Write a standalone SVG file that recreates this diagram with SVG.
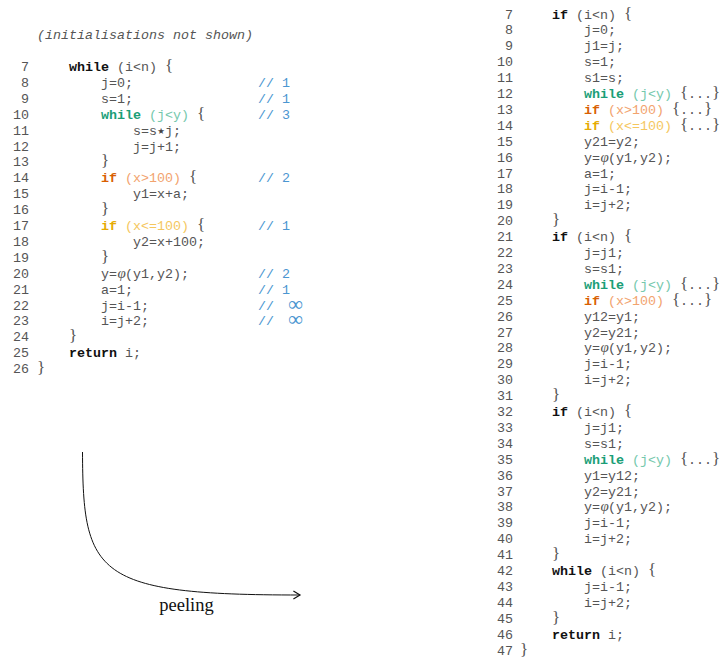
<svg xmlns="http://www.w3.org/2000/svg" width="722" height="658" viewBox="0 0 722 658">
<defs>
<style>
.c{font-family:"Liberation Mono","Courier New",monospace;font-size:13.33px;fill:#555}
.n{font-family:"Liberation Mono","Courier New",monospace;font-size:13.33px;fill:#555;text-anchor:end}
.it{font-style:italic}
.k{font-weight:bold;fill:#111}
.gk{font-weight:bold;fill:#1b9e77}
.gc{fill:#74c8ac}
.ok{font-weight:bold;fill:#d95f02}
.oc{fill:#f2a36e}
.yk{font-weight:bold;fill:#e6ab02}
.yc{fill:#f5c75e}
.cm{font-family:"Liberation Mono","Courier New",monospace;font-size:13.33px;fill:#4b96d1}
.inf{font-family:"Liberation Serif","DejaVu Serif",serif;font-size:21px;fill:#4b96d1}
.b{font-family:"Liberation Serif","Times New Roman",serif;font-size:17px;fill:#555}
.phi{font-family:"Liberation Serif","Times New Roman",serif;font-style:italic;font-size:15px;fill:#555}
.star{font-family:"DejaVu Sans",sans-serif;font-size:8.5px;fill:#444;text-anchor:middle}
.lbl{font-family:"Liberation Serif","Times New Roman",serif;font-size:18.5px;fill:#111;text-anchor:middle}
</style>
<marker id="arr" markerUnits="userSpaceOnUse" markerWidth="12" markerHeight="12" refX="0" refY="0" viewBox="-7 -5 8 10" orient="auto">
<path d="M-5.5,-3.4 L0,0 L-5.5,3.4" fill="none" stroke="#111" stroke-width="1"/>
</marker>
</defs>
<rect width="722" height="658" fill="#fff"/>

<g id="left-code">
<text class="c it" x="37" y="38.5">(initialisations not shown)</text>
<g id="l7"><text class="n" x="29" y="71">7</text><text class="c" x="69" y="71"><tspan class="k">while</tspan> (i&lt;n)</text><text class="b" x="165" y="71">{</text></g>
<g id="l8"><text class="n" x="29" y="86.9">8</text><text class="c" x="101" y="86.9">j=0;</text><text class="cm" x="258" y="86.9">// 1</text></g>
<g id="l9"><text class="n" x="29" y="102.8">9</text><text class="c" x="101" y="102.8">s=1;</text><text class="cm" x="258" y="102.8">// 1</text></g>
<g id="l10"><text class="n" x="29" y="118.7">10</text><text class="c" x="101" y="118.7"><tspan class="gk">while</tspan> <tspan class="gc">(j&lt;y)</tspan></text><text class="b" x="197" y="118.7">{</text><text class="cm" x="258" y="118.7">// 3</text></g>
<g id="l11"><text class="n" x="29" y="134.6">11</text><text class="c" x="133" y="134.6">s=s</text><text class="star" x="161" y="133.6">★</text><text class="c" x="165" y="134.6">j;</text></g>
<g id="l12"><text class="n" x="29" y="150.5">12</text><text class="c" x="133" y="150.5">j=j+1;</text></g>
<g id="l13"><text class="n" x="29" y="166.4">13</text><text class="b" x="101" y="166.4">}</text></g>
<g id="l14"><text class="n" x="29" y="182.3">14</text><text class="c" x="101" y="182.3"><tspan class="ok">if</tspan> <tspan class="oc">(x&gt;100)</tspan></text><text class="b" x="189" y="182.3">{</text><text class="cm" x="258" y="182.3">// 2</text></g>
<g id="l15"><text class="n" x="29" y="198.2">15</text><text class="c" x="133" y="198.2">y1=x+a;</text></g>
<g id="l16"><text class="n" x="29" y="214.1">16</text><text class="b" x="101" y="214.1">}</text></g>
<g id="l17"><text class="n" x="29" y="230">17</text><text class="c" x="101" y="230"><tspan class="yk">if</tspan> <tspan class="yc">(x&lt;=100)</tspan></text><text class="b" x="197" y="230">{</text><text class="cm" x="258" y="230">// 1</text></g>
<g id="l18"><text class="n" x="29" y="245.9">18</text><text class="c" x="133" y="245.9">y2=x+100;</text></g>
<g id="l19"><text class="n" x="29" y="261.8">19</text><text class="b" x="101" y="261.8">}</text></g>
<g id="l20"><text class="n" x="29" y="277.7">20</text><text class="c" x="101" y="277.7">y=</text><text class="phi" x="117.5" y="277.7">φ</text><text class="c" x="125" y="277.7">(y1,y2);</text><text class="cm" x="258" y="277.7">// 2</text></g>
<g id="l21"><text class="n" x="29" y="293.6">21</text><text class="c" x="101" y="293.6">a=1;</text><text class="cm" x="258" y="293.6">// 1</text></g>
<g id="l22"><text class="n" x="29" y="309.5">22</text><text class="c" x="101" y="309.5">j=i-1;</text><text class="cm" x="258" y="309.5">//</text><text class="inf" x="288" y="310.5">∞</text></g>
<g id="l23"><text class="n" x="29" y="325.4">23</text><text class="c" x="101" y="325.4">i=j+2;</text><text class="cm" x="258" y="325.4">//</text><text class="inf" x="288" y="326.4">∞</text></g>
<g id="l24"><text class="n" x="29" y="341.3">24</text><text class="b" x="69" y="341.3">}</text></g>
<g id="l25"><text class="n" x="29" y="357.2">25</text><text class="c" x="69" y="357.2"><tspan class="k">return</tspan> i;</text></g>
<g id="l26"><text class="n" x="29" y="373.1">26</text><text class="b" x="37" y="373.1">}</text></g>
</g>

<g id="right-code">
<g id="r7"><text class="n" x="513" y="18.5">7</text><text class="c" x="552" y="18.5"><tspan class="k">if</tspan> (i&lt;n)</text><text class="b" x="624" y="18.5">{</text></g>
<g id="r8"><text class="n" x="513" y="34.4">8</text><text class="c" x="584" y="34.4">j=0;</text></g>
<g id="r9"><text class="n" x="513" y="50.3">9</text><text class="c" x="584" y="50.3">j1=j;</text></g>
<g id="r10"><text class="n" x="513" y="66.2">10</text><text class="c" x="584" y="66.2">s=1;</text></g>
<g id="r11"><text class="n" x="513" y="82.1">11</text><text class="c" x="584" y="82.1">s1=s;</text></g>
<g id="r12"><text class="n" x="513" y="98">12</text><text class="c" x="584" y="98"><tspan class="gk">while</tspan> <tspan class="gc">(j&lt;y)</tspan></text><text class="b" x="680" y="98">{</text><text class="c" x="688" y="98">...</text><text class="b" x="712" y="98">}</text></g>
<g id="r13"><text class="n" x="513" y="113.9">13</text><text class="c" x="584" y="113.9"><tspan class="ok">if</tspan> <tspan class="oc">(x&gt;100)</tspan></text><text class="b" x="672" y="113.9">{</text><text class="c" x="680" y="113.9">...</text><text class="b" x="704" y="113.9">}</text></g>
<g id="r14"><text class="n" x="513" y="129.8">14</text><text class="c" x="584" y="129.8"><tspan class="yk">if</tspan> <tspan class="yc">(x&lt;=100)</tspan></text><text class="b" x="680" y="129.8">{</text><text class="c" x="688" y="129.8">...</text><text class="b" x="712" y="129.8">}</text></g>
<g id="r15"><text class="n" x="513" y="145.7">15</text><text class="c" x="584" y="145.7">y21=y2;</text></g>
<g id="r16"><text class="n" x="513" y="161.6">16</text><text class="c" x="584" y="161.6">y=</text><text class="phi" x="600.5" y="161.6">φ</text><text class="c" x="608" y="161.6">(y1,y2);</text></g>
<g id="r17"><text class="n" x="513" y="177.5">17</text><text class="c" x="584" y="177.5">a=1;</text></g>
<g id="r18"><text class="n" x="513" y="193.4">18</text><text class="c" x="584" y="193.4">j=i-1;</text></g>
<g id="r19"><text class="n" x="513" y="209.3">19</text><text class="c" x="584" y="209.3">i=j+2;</text></g>
<g id="r20"><text class="n" x="513" y="225.2">20</text><text class="b" x="552" y="225.2">}</text></g>
<g id="r21"><text class="n" x="513" y="241.1">21</text><text class="c" x="552" y="241.1"><tspan class="k">if</tspan> (i&lt;n)</text><text class="b" x="624" y="241.1">{</text></g>
<g id="r22"><text class="n" x="513" y="257">22</text><text class="c" x="584" y="257">j=j1;</text></g>
<g id="r23"><text class="n" x="513" y="272.9">23</text><text class="c" x="584" y="272.9">s=s1;</text></g>
<g id="r24"><text class="n" x="513" y="288.8">24</text><text class="c" x="584" y="288.8"><tspan class="gk">while</tspan> <tspan class="gc">(j&lt;y)</tspan></text><text class="b" x="680" y="288.8">{</text><text class="c" x="688" y="288.8">...</text><text class="b" x="712" y="288.8">}</text></g>
<g id="r25"><text class="n" x="513" y="304.7">25</text><text class="c" x="584" y="304.7"><tspan class="ok">if</tspan> <tspan class="oc">(x&gt;100)</tspan></text><text class="b" x="672" y="304.7">{</text><text class="c" x="680" y="304.7">...</text><text class="b" x="704" y="304.7">}</text></g>
<g id="r26"><text class="n" x="513" y="320.6">26</text><text class="c" x="584" y="320.6">y12=y1;</text></g>
<g id="r27"><text class="n" x="513" y="336.5">27</text><text class="c" x="584" y="336.5">y2=y21;</text></g>
<g id="r28"><text class="n" x="513" y="352.4">28</text><text class="c" x="584" y="352.4">y=</text><text class="phi" x="600.5" y="352.4">φ</text><text class="c" x="608" y="352.4">(y1,y2);</text></g>
<g id="r29"><text class="n" x="513" y="368.3">29</text><text class="c" x="584" y="368.3">j=i-1;</text></g>
<g id="r30"><text class="n" x="513" y="384.2">30</text><text class="c" x="584" y="384.2">i=j+2;</text></g>
<g id="r31"><text class="n" x="513" y="400.1">31</text><text class="b" x="552" y="400.1">}</text></g>
<g id="r32"><text class="n" x="513" y="416">32</text><text class="c" x="552" y="416"><tspan class="k">if</tspan> (i&lt;n)</text><text class="b" x="624" y="416">{</text></g>
<g id="r33"><text class="n" x="513" y="431.9">33</text><text class="c" x="584" y="431.9">j=j1;</text></g>
<g id="r34"><text class="n" x="513" y="447.8">34</text><text class="c" x="584" y="447.8">s=s1;</text></g>
<g id="r35"><text class="n" x="513" y="463.7">35</text><text class="c" x="584" y="463.7"><tspan class="gk">while</tspan> <tspan class="gc">(j&lt;y)</tspan></text><text class="b" x="680" y="463.7">{</text><text class="c" x="688" y="463.7">...</text><text class="b" x="712" y="463.7">}</text></g>
<g id="r36"><text class="n" x="513" y="479.6">36</text><text class="c" x="584" y="479.6">y1=y12;</text></g>
<g id="r37"><text class="n" x="513" y="495.5">37</text><text class="c" x="584" y="495.5">y2=y21;</text></g>
<g id="r38"><text class="n" x="513" y="511.4">38</text><text class="c" x="584" y="511.4">y=</text><text class="phi" x="600.5" y="511.4">φ</text><text class="c" x="608" y="511.4">(y1,y2);</text></g>
<g id="r39"><text class="n" x="513" y="527.3">39</text><text class="c" x="584" y="527.3">j=i-1;</text></g>
<g id="r40"><text class="n" x="513" y="543.2">40</text><text class="c" x="584" y="543.2">i=j+2;</text></g>
<g id="r41"><text class="n" x="513" y="559.1">41</text><text class="b" x="552" y="559.1">}</text></g>
<g id="r42"><text class="n" x="513" y="575">42</text><text class="c" x="552" y="575"><tspan class="k">while</tspan> (i&lt;n)</text><text class="b" x="648" y="575">{</text></g>
<g id="r43"><text class="n" x="513" y="590.9">43</text><text class="c" x="584" y="590.9">j=i-1;</text></g>
<g id="r44"><text class="n" x="513" y="606.8">44</text><text class="c" x="584" y="606.8">i=j+2;</text></g>
<g id="r45"><text class="n" x="513" y="622.7">45</text><text class="b" x="552" y="622.7">}</text></g>
<g id="r46"><text class="n" x="513" y="638.6">46</text><text class="c" x="552" y="638.6"><tspan class="k">return</tspan> i;</text></g>
<g id="r47"><text class="n" x="513" y="654.5">47</text><text class="b" x="520" y="654.5">}</text></g>
</g>

<g id="connectors">
<path d="M82.5,452 C83,575 95,595 300,595" fill="none" stroke="#111" stroke-width="1" marker-end="url(#arr)"/>
<text class="lbl" x="186.5" y="611">peeling</text>
</g>
</svg>
